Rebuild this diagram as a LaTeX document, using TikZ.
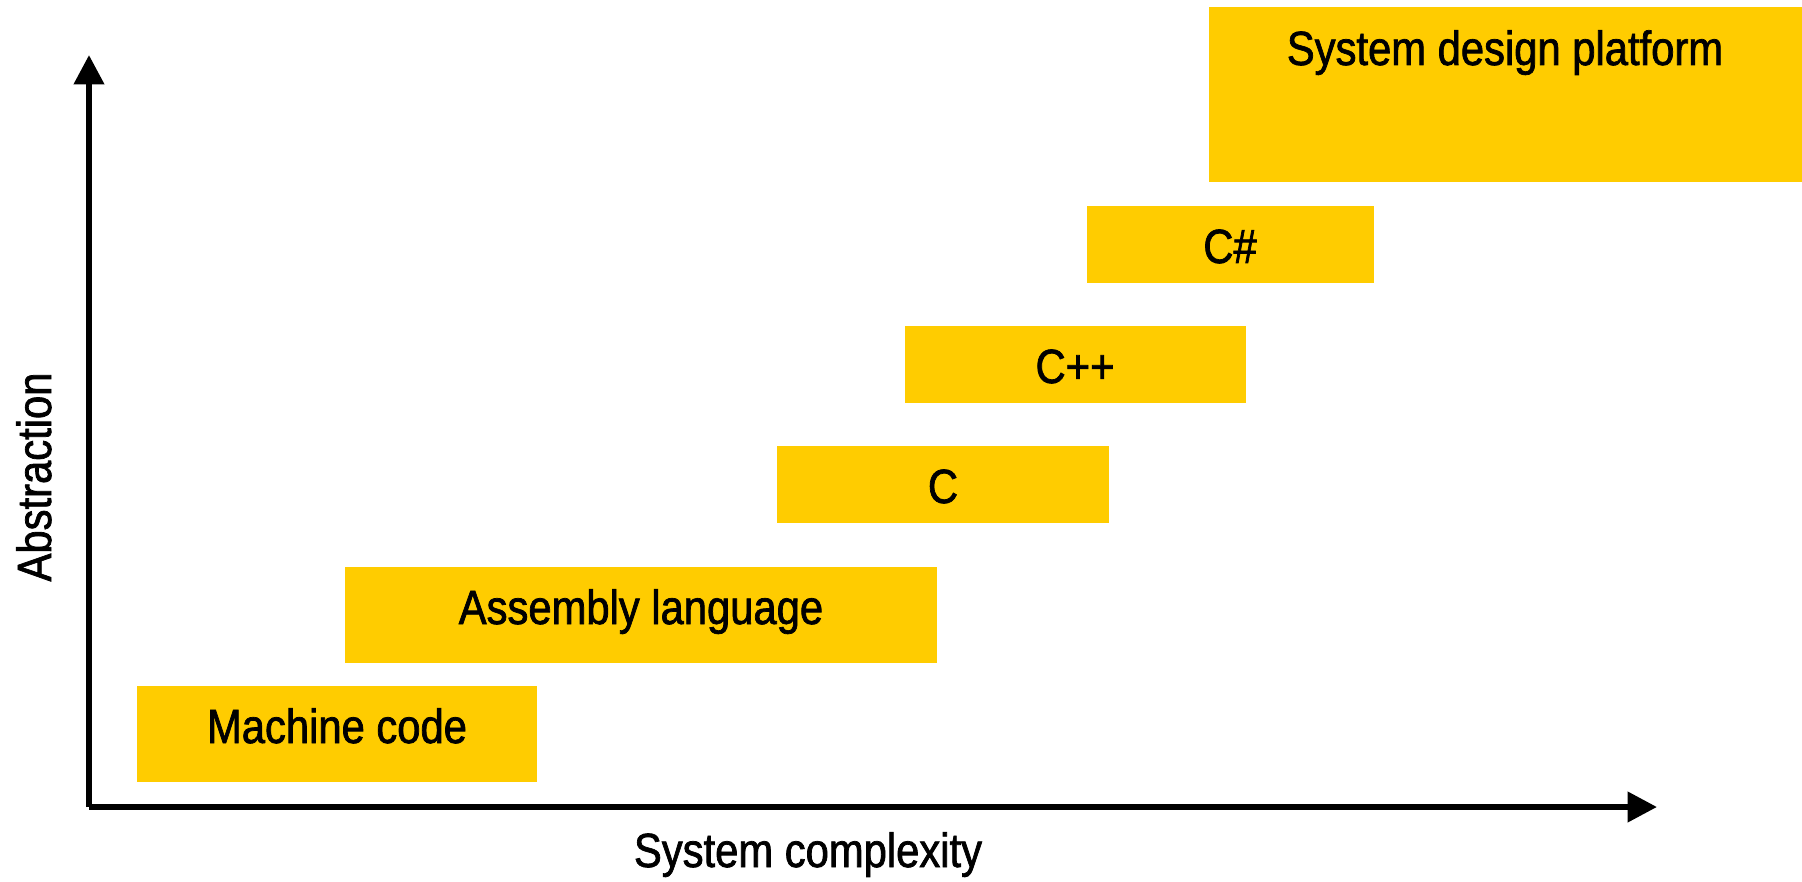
\documentclass[tikz,border=0pt]{standalone}
\usepackage{fontspec}
\setmainfont{Liberation Sans}[FakeStretch=0.87,FakeBold=1.5]
\usetikzlibrary{arrows.meta,fit}
\definecolor{gold}{RGB}{255,204,0}
\tikzset{
  box/.style={fill=gold, draw=none, inner sep=0pt, outer sep=0pt},
  lbl/.style={anchor=base, inner sep=0pt, font=\fontsize{24}{28}\selectfont, text=black},
  axis/.style={line width=3pt, line cap=butt,
    -{Triangle[length=14.7pt,width=14.7pt]}},
}
\begin{document}
\begin{tikzpicture}[x=0.5pt, y=-0.5pt]
  \useasboundingbox (0,0) rectangle (1802,882);

  % language levels
  \node[box, fit={(137,686) (537,782)}]    (mc)  {};
  \node[box, fit={(345,567) (937,663)}]    (asm) {};
  \node[box, fit={(777,446) (1109,523)}]   (c)   {};
  \node[box, fit={(905,326) (1246,403)}]   (cpp) {};
  \node[box, fit={(1087,206) (1374,283)}]  (cs)  {};
  \node[box, fit={(1209,7) (1802,182)}]    (sdp) {};

  \node[lbl] (mcT)  at (337,743)  {Machine code};
  \node[lbl] (asmT) at (641,624)  {Assembly language};
  \node[lbl] (cT)   at (943,503)  {C};
  \node[lbl] (cppT) at (1075,383) {C++};
  \node[lbl] (csT)  at (1230,263) {C\#};
  \node[lbl] (sdpT) at (1505,65)  {System design platform};

  % axes
  \coordinate (O)    at (89,807);
  \coordinate (ytip) at (89,55);
  \coordinate (xtip) at (1657,807);
  \draw[axis] (O) -- (ytip);
  \draw[axis] (O) -- (xtip);

  \node[lbl] (xlab) at (808,867) {System complexity};
  \node[lbl, rotate=90] (ylab) at (51,477) {Abstraction};
\end{tikzpicture}
\end{document}
